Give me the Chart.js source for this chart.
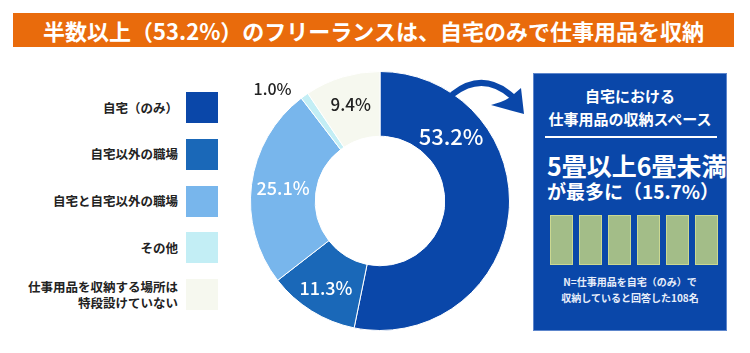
<!DOCTYPE html>
<html>
<head>
  <meta charset="utf-8">
  <title>仕事用品の収納場所</title>
  <script src="https://cdn.jsdelivr.net/npm/chart.js"></script>
  <style>
    body {
      margin: 0;
      width: 750px;
      height: 353px;
      position: relative;
      background: #fff;
      font-family: "Noto Sans CJK JP", "Noto Sans", sans-serif;
      overflow: hidden;
    }

    .title {
      position: absolute;
      left: 13px;
      top: 13px;
      width: 721px;
      height: 34px;
      background: #e96b0c;
      color: #fff;
      font-weight: bold;
      font-size: 22px;
      line-height: 34px;
      text-align: center;
    }

    .legend {
      position: absolute;
      left: 0;
      top: 92px;
      width: 218px;
    }

    .legend .row {
      position: absolute;
      right: 0;
      height: 31px;
      display: flex;
      align-items: center;
    }

    .legend .txt {
      font-size: 12.5px;
      font-weight: bold;
      color: #222;
      text-align: right;
      line-height: 16px;
      white-space: pre-line;
      margin-right: 8px;
    }

    .legend .sw {
      width: 32px;
      height: 31px;
    }

    .chart-box {
      position: absolute;
      left: 250px;
      top: 71px;
      width: 260px;
      height: 260px;
    }

    .panel {
      position: absolute;
      left: 533px;
      top: 73px;
      width: 192px;
      height: 256px;
      background: #0a47a9;
      border: 1px solid #5d86cc;
      color: #fff;
    }

    .panel .head {
      position: absolute;
      left: 0;
      top: 10px;
      width: 100%;
      text-align: center;
      font-size: 15px;
      font-weight: bold;
      line-height: 23px;
    }

    .panel .rule {
      position: absolute;
      left: 11px;
      top: 62px;
      width: 172px;
      height: 2px;
      background: #fff;
    }

    .panel .big {
      position: absolute;
      left: 13px;
      top: 75px;
      font-size: 25px;
      font-weight: bold;
      line-height: 32px;
      white-space: nowrap;
    }

    .panel .mid {
      position: absolute;
      left: 13px;
      top: 104px;
      font-size: 19px;
      font-weight: bold;
      line-height: 26px;
      white-space: nowrap;
    }

    .tatami {
      position: absolute;
      left: 16px;
      top: 141px;
      display: flex;
      gap: 6px;
    }

    .tatami div {
      width: 21px;
      height: 48px;
      background: #a3bd88;
      border: 1px solid #cbd891;
    }

    .panel .note {
      position: absolute;
      left: 0;
      top: 200px;
      width: 100%;
      text-align: center;
      font-size: 10px;
      font-weight: bold;
      line-height: 16px;
      color: #e8eefa;
    }

    svg.arrow {
      position: absolute;
      left: 0;
      top: 0;
    }
  </style>
</head>
<body>
  <div class="title">半数以上（53.2%）のフリーランスは、自宅のみで仕事用品を収納</div>

  <div class="legend" id="legend"></div>

  <div class="chart-box">
    <canvas id="donut"></canvas>
  </div>

  <svg class="arrow" width="750" height="353">
    <path d="M453 94 Q484 70 514 98" fill="none" stroke="#0a47a9" stroke-width="6" stroke-linecap="round"/>
    <path d="M521 88 L524 114 L491 105 Q507 101 514 94 Z" fill="#0a47a9"/>
  </svg>

  <div class="panel">
    <div class="head">自宅における<br>仕事用品の収納スペース</div>
    <div class="rule"></div>
    <div class="big">5畳以上6畳未満</div>
    <div class="mid">が最多に（15.7%）</div>
    <div class="tatami" id="tatami"></div>
    <div class="note">N=仕事用品を自宅（のみ）で<br>収納していると回答した108名</div>
  </div>

  <script>
    // 収納場所の内訳（%）
    const categories = [
      '自宅（のみ）',
      '自宅以外の職場',
      '自宅と自宅以外の職場',
      'その他',
      '仕事用品を収納する場所は\n特段設けていない'
    ];
    const shares = [53.2, 11.3, 25.1, 1.0, 9.4];
    const percentLabels = ['53.2%', '11.3%', '25.1%', '1.0%', '9.4%'];

    const sliceColors = ['#0a47a9', '#1a68b8', '#78b6ec', '#c3eef5', '#f6f8ef'];
    const labelColors = ['#fff', '#fff', '#fff', '#222', '#222'];
    const labelFonts  = [22, 18, 18, 16, 17];
    // where along the arc (0..1) and how far out (0 = inner edge, 1 = outer edge)
    const labelAlong  = [0.25, 0.5, 0.5, -1.75, 0.5];
    const labelOut    = [0.48, 0.58, 0.51, 1.4, 0.55];

    // legend
    const legend = document.getElementById('legend');
    categories.forEach((name, i) => {
      const row = document.createElement('div');
      row.className = 'row';
      row.style.top = (i * 46.8) + 'px';
      row.innerHTML = '<div class="txt"></div><div class="sw"></div>';
      row.querySelector('.txt').textContent = name;
      row.querySelector('.sw').style.background = sliceColors[i];
      legend.appendChild(row);
    });

    // 6 tatami mats
    const tatami = document.getElementById('tatami');
    for (let i = 0; i < 6; i++) tatami.appendChild(document.createElement('div'));

    const sliceLabels = {
      id: 'sliceLabels',
      afterDatasetsDraw(chart) {
        const c = chart.ctx;
        const arcs = chart.getDatasetMeta(0).data;
        c.save();
        c.textAlign = 'center';
        c.textBaseline = 'middle';
        arcs.forEach((arc, i) => {
          const a = arc.startAngle + (arc.endAngle - arc.startAngle) * labelAlong[i];
          const r = arc.innerRadius + (arc.outerRadius - arc.innerRadius) * labelOut[i];
          c.font = '500 ' + labelFonts[i] + 'px "Noto Sans CJK JP", "Noto Sans", sans-serif';
          c.fillStyle = labelColors[i];
          c.fillText(percentLabels[i], arc.x + Math.cos(a) * r, arc.y + Math.sin(a) * r);
        });
        c.restore();
      }
    };

    new Chart(document.getElementById('donut'), {
      type: 'doughnut',
      data: {
        labels: categories,
        datasets: [{
          data: shares,
          backgroundColor: sliceColors,
          borderColor: '#ffffff',
          borderWidth: 1
        }]
      },
      options: {
        responsive: true,
        maintainAspectRatio: false,
        animation: false,
        cutout: '50%',
        plugins: {
          legend: { display: false },
          tooltip: { enabled: false }
        }
      },
      plugins: [sliceLabels]
    });
  </script>
</body>
</html>
